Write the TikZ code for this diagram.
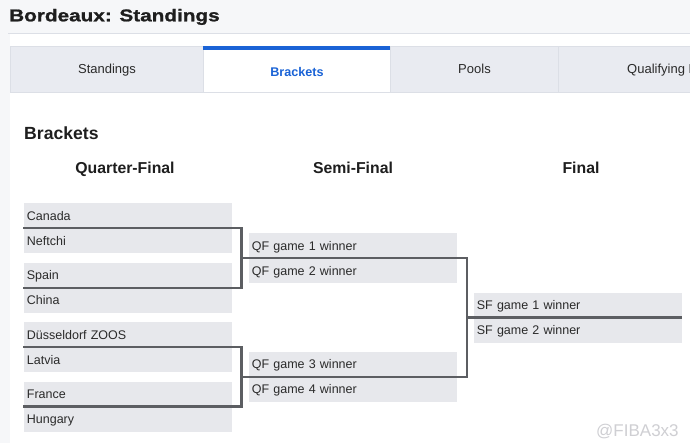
\documentclass[tikz,border=0pt]{standalone}
\usepackage{fontspec}
\setmainfont{Liberation Sans}
\newfontfamily\titlefont{Liberation Sans}[FakeStretch=1.22, FakeBold=1.2]
\usetikzlibrary{calc}
\definecolor{pagebg}{HTML}{F6F7F9}
\definecolor{tabfill}{HTML}{E9EBF1}
\definecolor{tabline}{HTML}{DCDFE6}
\definecolor{activeblue}{HTML}{1A63D6}
\definecolor{boxfill}{HTML}{E7E8EC}
\definecolor{conncol}{HTML}{5C5E62}
\definecolor{txt}{HTML}{2A2A2A}
\definecolor{head}{HTML}{1E1E1E}
\definecolor{wmark}{HTML}{CFCFD3}
\tikzset{
  row/.style={fill=boxfill, text width=201.6pt, inner xsep=3.4pt, inner ysep=0pt,
    minimum height=25pt, align=left, anchor=north west, text=txt,
    font=\fontsize{12.5}{14}\selectfont, text height=9pt, text depth=0pt},
  conn/.style={draw=conncol, line width=2.2pt, line join=miter},
  tab/.style={fill=tabfill, draw=tabline, line width=0.8pt, minimum height=46pt,
    inner sep=0pt, anchor=north west},
  tablabel/.style={anchor=base, text=txt, font=\fontsize{13}{15}\selectfont, inner sep=0pt},
  colhead/.style={anchor=base, text=head, font=\bfseries\fontsize{15.8}{18}\selectfont, inner sep=0pt}
}
\begin{document}
\begin{tikzpicture}[x=1pt,y=-1pt]
\useasboundingbox (0,0) rectangle (690,443);
\clip (0,0) rectangle (690,443);
\fill[pagebg] (0,0) rectangle (690,443);
\fill[white] (10,34) rectangle (690,443);
\draw[tabline, line width=1pt] (8,33.5) -- (690,33.5);
% title
\node[anchor=base west, inner sep=0pt, text=head, font=\titlefont\bfseries\fontsize{17}{20}\selectfont] (title) at (9,21.3) {Bordeaux: Standings};
% tabs
\node[tab, minimum width=193pt] (t1) at (10,46) {};
\node[tab, minimum width=187pt, fill=white] (t2) at (203,46) {};
\node[tab, minimum width=168pt] (t3) at (390,46) {};
\node[tab, minimum width=150pt] (t4) at (558,46) {};
\fill[activeblue] (203,46.3) rectangle (390,49.6);
\node[tablabel] (l1) at (107,73.8) {Standings};
\node[tablabel, text=activeblue, font=\bfseries\fontsize{12.6}{15}\selectfont] (l2) at (297,76.7) {Brackets};
\node[tablabel] (l3) at (474.5,73.8) {Pools};
\node[tablabel, anchor=base west] (l4) at (627,73.8) {Qualifying D};
% headings
\node[anchor=base west, inner sep=0pt, text=head, font=\bfseries\fontsize{17.6}{20}\selectfont] (bh) at (24,139.3) {Brackets};
\node[colhead] (hq) at (125,174) {Quarter-Final};
\node[colhead] (hs) at (353,174) {Semi-Final};
\node[colhead] (hf) at (581,174) {Final};
% quarter-final rows
\node[row] (canada)  at (23.3,203.3) {Canada};
\node[row] (neftchi) at (23.3,228.3) {Neftchi};
\node[row] (spain)   at (23.3,262.7) {Spain};
\node[row] (china)   at (23.3,287.7) {China};
\node[row] (dus)     at (23.3,322.0) {Düsseldorf ZOOS};
\node[row] (latvia)  at (23.3,347.0) {Latvia};
\node[row] (france)  at (23.3,381.5) {France};
\node[row] (hungary) at (23.3,406.5) {Hungary};
% semi-final rows
\node[row] (qf1) at (248.3,233.3) {QF game 1 winner};
\node[row] (qf2) at (248.3,258.3) {QF game 2 winner};
\node[row] (qf3) at (248.3,351.7) {QF game 3 winner};
\node[row] (qf4) at (248.3,376.7) {QF game 4 winner};
% final rows
\node[row] (sf1) at (473.3,292.5) {SF game 1 winner};
\node[row] (sf2) at (473.3,317.5) {SF game 2 winner};
% junctions
\path (qf2.north west) ++(-6.8,0) coordinate (j1);
\path (qf4.north west) ++(-6.8,0) coordinate (j2);
\path (sf2.north west) ++(-6.6,0) coordinate (k1);
% connectors
\draw[conn] (neftchi.north west) -| (j1);
\draw[conn] (china.north west) -| (j1);
\draw[conn] (latvia.north west) -| (j2);
\draw[conn] (hungary.north west) -| (j2);
\draw[conn] (j1) -- (qf2.north east) -| (k1);
\draw[conn] (j2) -- (qf4.north east) -| (k1);
\draw[conn] (k1) -- (sf2.north east);
% watermark
\node[anchor=base west, inner sep=0pt, text=wmark, font=\fontsize{17}{19}\selectfont] (wm) at (596,436.7) {@FIBA3x3};
\end{tikzpicture}
\end{document}
